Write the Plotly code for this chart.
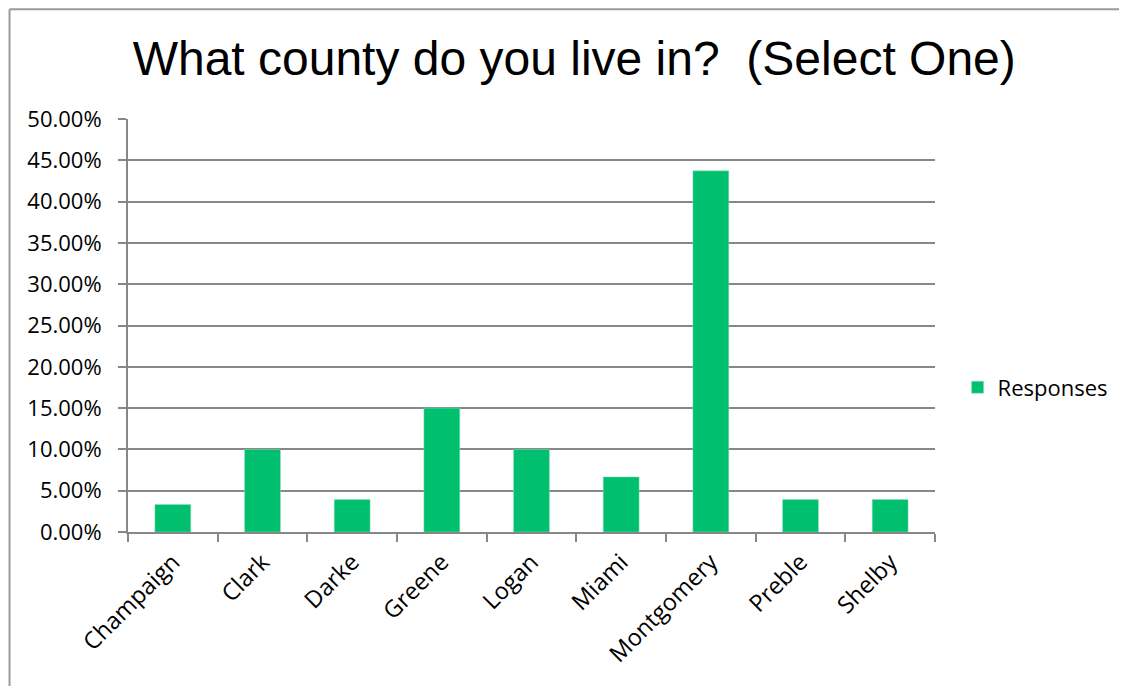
import plotly.graph_objects as go

counties = ["Champaign", "Clark", "Darke", "Greene", "Logan", "Miami", "Montgomery", "Preble", "Shelby"]
responses = [0.0333, 0.10, 0.0392, 0.15, 0.10, 0.0667, 0.4372, 0.0392, 0.0392]
y_ticks = [0, 0.05, 0.10, 0.15, 0.20, 0.25, 0.30, 0.35, 0.40, 0.45, 0.50]

grey = "#878787"
fig = go.Figure()
fig.add_trace(go.Bar(
    x=counties, y=responses, name="Responses",
    marker=dict(color="#00BF6F", line=dict(color="#8fe0bd", width=0.5)),
))

fig.update_layout(
    width=1119, height=678,
    paper_bgcolor="white", plot_bgcolor="white",
    margin=dict(l=120, r=192, t=111, b=154),
    bargap=0.6,
    title=dict(text="What county do you live in?  (Select One)", x=0.506, xanchor="center",
               y=0.926, yanchor="middle",
               font=dict(family="Liberation Sans, Arial", size=48, color="black")),
    font=dict(family="Open Sans, sans-serif", size=22, color="black"),
    showlegend=True,
    legend=dict(x=1.028, y=0.35, xanchor="left", yanchor="middle",
                font=dict(family="Open Sans, sans-serif", size=22, color="black"),
                itemwidth=30, bgcolor="rgba(0,0,0,0)"),
    xaxis=dict(showline=True, linecolor=grey, linewidth=2, tickson="boundaries",
               ticks="outside", ticklen=8, tickcolor=grey, tickwidth=2,
               tickangle=-45, showgrid=False, ticklabelstandoff=5,
               tickfont=dict(size=23.5)),
    yaxis=dict(range=[0, 0.5], tickvals=y_ticks, tickformat=".2%",
               showline=True, linecolor=grey, linewidth=2,
               ticks="outside", ticklen=8, tickcolor=grey, tickwidth=2,
               showgrid=True, gridcolor=grey, gridwidth=2, zeroline=False,
               ticklabelstandoff=12),
    shapes=[
        dict(type="line", xref="paper", yref="paper", x0=-0.1468, x1=1.3, y0=1.266, y1=1.266,
             line=dict(color="#9a9a9a", width=2)),
        dict(type="line", xref="paper", yref="paper", x0=-0.1468, x1=-0.1468, y0=-0.4, y1=1.266,
             line=dict(color="#9a9a9a", width=2)),
    ],
)

fig.write_html("out.html")
